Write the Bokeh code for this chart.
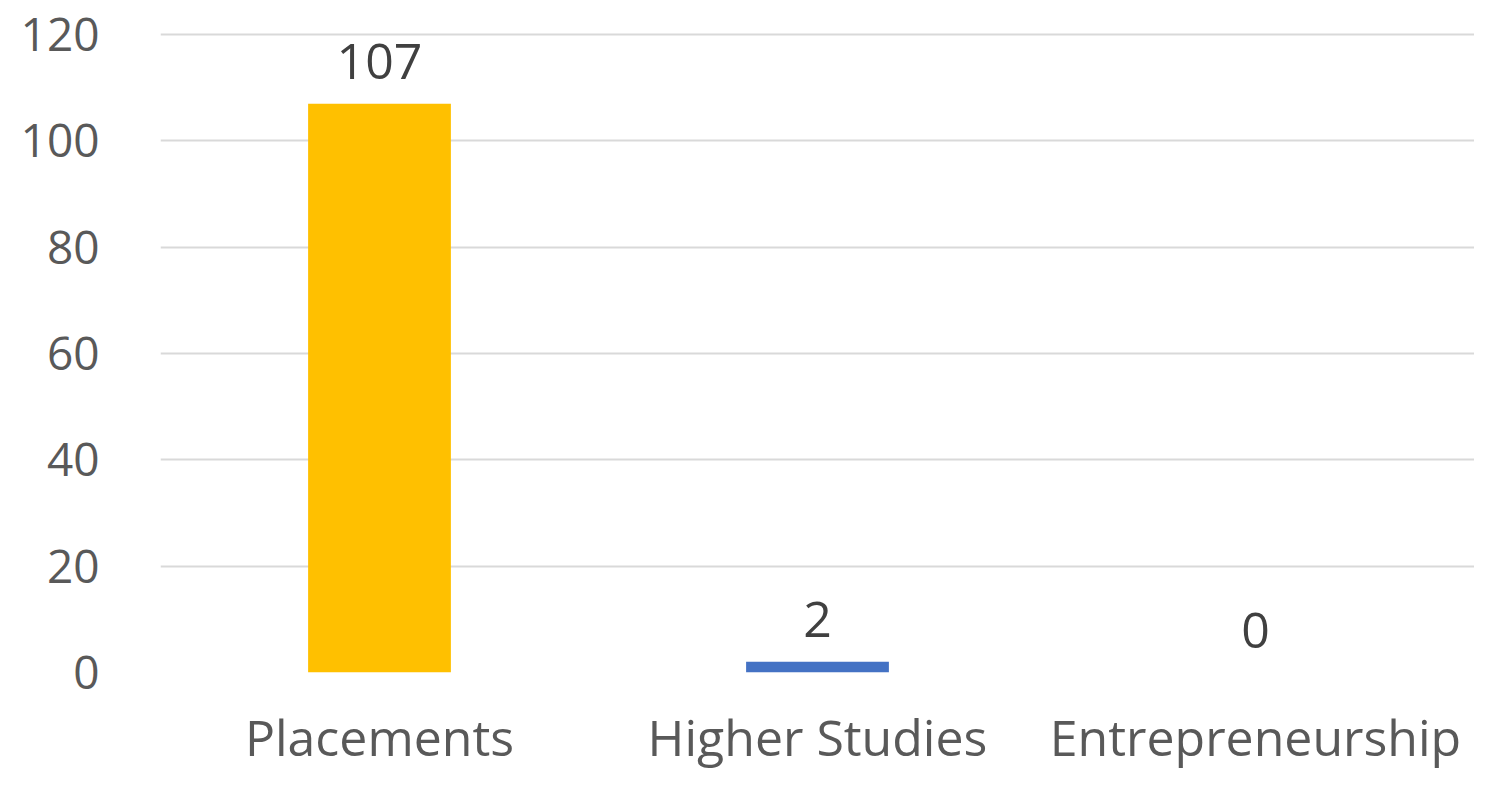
from bokeh.plotting import figure
from bokeh.models import Range1d, FixedTicker, ColumnDataSource, LabelSet
from bokeh.core.properties import value
from bokeh.embed import file_html
from bokeh.resources import INLINE

categories = ["Placements", "Higher Studies", "Entrepreneurship"]
values = [107, 2, 0]
bar_colors = ["#FFC000", "#4472C4", "#A5A5A5"]
y_ticks = [0, 20, 40, 60, 80, 100, 120]

FONT = "Open Sans"

src = ColumnDataSource(dict(cat=categories, val=values, col=bar_colors,
                            lab=[str(v) for v in values]))

p = figure(x_range=categories, y_range=Range1d(0, 120.6), width=1474, height=773,
           output_backend="svg", toolbar_location=None,
           min_border_left=160, min_border_right=0, min_border_top=31,
           min_border_bottom=97)
p.outline_line_color = None
p.background_fill_color = "white"
p.border_fill_color = "white"

p.vbar(x="cat", top="val", width=0.326, fill_color="col", line_color=None,
       source=src)

labels = LabelSet(x="cat", y="val", text="lab", source=src, y_offset=25,
                  text_align="center", text_baseline="alphabetic",
                  text_font=value(FONT), text_font_size="50px",
                  text_color="#404040")
p.add_layout(labels)

p.xgrid.grid_line_color = None
p.ygrid.grid_line_color = "#D9D9D9"
p.ygrid.grid_line_width = 2
p.yaxis.ticker = FixedTicker(ticks=y_ticks)

for ax in (p.xaxis, p.yaxis):
    ax.axis_line_color = None
    ax.major_tick_line_color = None
    ax.minor_tick_line_color = None
    ax.major_label_text_font = FONT
    ax.major_label_text_color = "#595959"

p.yaxis.major_label_text_font_size = "46px"
p.xaxis.major_label_text_font_size = "50px"
p.yaxis.major_label_standoff = 55
p.xaxis.major_label_standoff = 24

open("out.html", "w").write(file_html(p, INLINE))
